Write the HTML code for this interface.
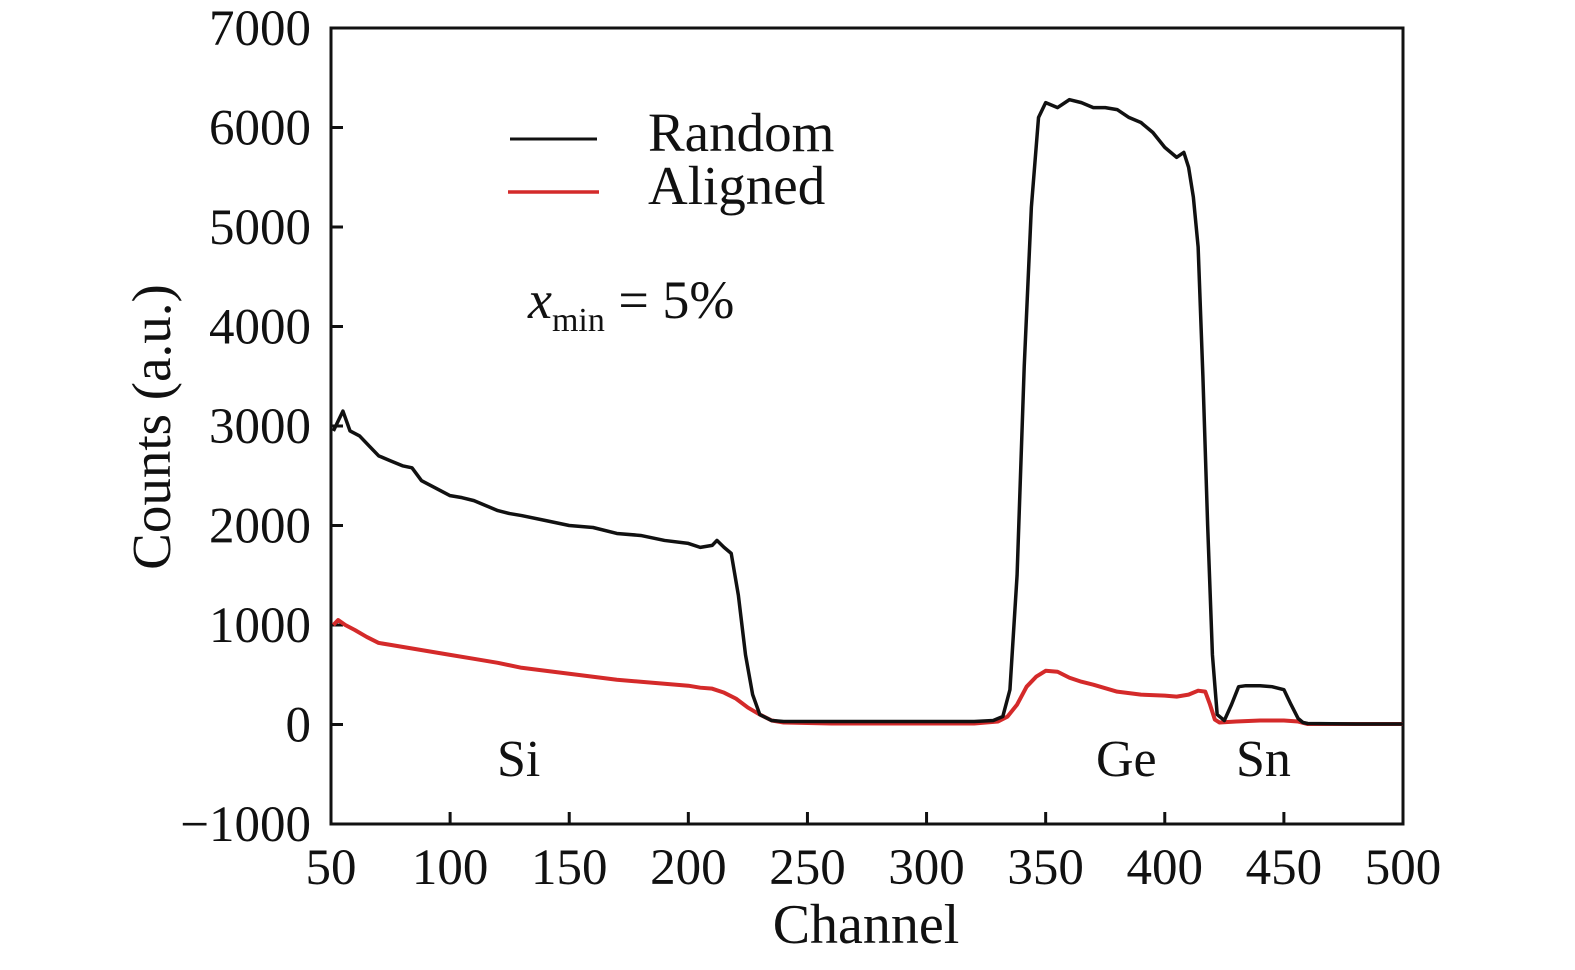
<!DOCTYPE html>
<html><head><meta charset="utf-8"><style>
body{margin:0;background:#fff}
svg text{font-family:"Liberation Serif",serif;fill:#111}
</style></head><body>
<svg width="1575" height="965" viewBox="0 0 1575 965">
<g id="axes"></g>
<g id="series"></g>
<g>
<line x1="510" y1="139" x2="597" y2="139" stroke="#111" stroke-width="3"/>
<text x="648" y="151" font-size="55">Random</text>
<line x1="508" y1="192" x2="599" y2="192" stroke="#d42a2a" stroke-width="3.5"/>
<text x="648" y="204" font-size="55">Aligned</text>
</g>
<text x="528" y="318" font-size="54"><tspan font-style="italic">x</tspan><tspan font-size="34" dy="13">min</tspan><tspan dy="-13"> = 5%</tspan></text>
<text x="497" y="776" font-size="52">Si</text>
<text x="1096" y="776" font-size="52">Ge</text>
<text x="1236" y="776" font-size="52">Sn</text>
<text x="866" y="943" font-size="56" text-anchor="middle">Channel</text>
<text transform="translate(170,427) rotate(-90)" font-size="55" text-anchor="middle">Counts (a.u.)</text>
</svg>
<script>
const xTicks=[50,100,150,200,250,300,350,400,450,500];
const yTicks=[-1000,0,1000,2000,3000,4000,5000,6000,7000];
const yTickLabels=["\u22121000","0","1000","2000","3000","4000","5000","6000","7000"];
const randomX=[51,53,55,58,62,66,70,75,80,84,88,92,96,100,105,110,115,120,125,130,140,150,160,170,180,190,200,205,210,212,215,218,221,224,227,230,235,240,260,280,300,320,328,332,335,338,341,344,347,350,355,360,365,370,375,380,385,390,395,400,405,408,410,412,414,416,418,420,422,425,428,431,434,440,445,450,453,456,458,460,480,500];
const randomY=[2950,3050,3150,2950,2900,2800,2700,2650,2600,2580,2450,2400,2350,2300,2280,2250,2200,2150,2120,2100,2050,2000,1980,1920,1900,1850,1820,1780,1800,1850,1780,1720,1300,700,300,100,40,30,30,30,30,30,40,80,350,1500,3600,5200,6100,6250,6200,6280,6250,6200,6200,6180,6100,6050,5950,5800,5700,5750,5600,5300,4800,3500,2000,700,100,40,200,380,390,390,380,350,200,60,20,10,5,5];
const alignedX=[51,53,56,60,65,70,75,80,90,100,110,120,130,140,150,160,170,180,190,200,205,210,215,220,225,230,235,240,260,300,320,330,334,338,342,346,350,355,360,365,370,380,390,400,405,410,414,417,419,421,423,430,440,450,456,460,480,500];
const alignedY=[1000,1050,1000,950,880,820,800,780,740,700,660,620,570,540,510,480,450,430,410,390,370,360,320,260,170,100,40,20,10,10,10,30,80,200,380,480,540,530,470,430,400,330,300,290,280,300,340,330,200,50,20,30,40,40,30,5,5,5];
const L=331,R=1403,T=28,B=824;
const sx=v=>L+(v-50)/450*(R-L);
const sy=v=>B-(v+1000)/8000*(B-T);
const NS="http://www.w3.org/2000/svg";
const axes=document.getElementById('axes');
function mk(tag,attrs,parent){const e=document.createElementNS(NS,tag);for(const k in attrs)e.setAttribute(k,attrs[k]);parent.appendChild(e);return e;}
const frame=mk('rect',{x:L,y:T,width:R-L,height:B-T,fill:'none',stroke:'#111','stroke-width':3},axes);


xTicks.forEach(v=>{
 const t=mk('line',{x1:sx(v),x2:sx(v),y1:B,y2:B-12,stroke:'#111','stroke-width':3},axes);
 
 
 const tx=mk('text',{x:sx(v),y:B+60,'font-size':51,'text-anchor':'middle'},axes);
 tx.textContent=v;
 
 
});
yTicks.forEach((v,i)=>{
 const t=mk('line',{x1:L,x2:L+12,y1:sy(v),y2:sy(v),stroke:'#111','stroke-width':3},axes);
 
 
 const tx=mk('text',{x:L-20,y:sy(v)+17,'font-size':51,'text-anchor':'end'},axes);
 tx.textContent=yTickLabels[i];
 
 
});
const series=document.getElementById('series');
function line(xs,ys,color,name,w){
 const p=mk('polyline',{points:xs.map((x,i)=>sx(x)+','+sy(ys[i])).join(' '),fill:'none',stroke:color,'stroke-width':w,'stroke-linejoin':'round'},series);
 
 
}
line(alignedX,alignedY,'#d42a2a','aligned-series',4);
line(randomX,randomY,'#111','random-series',3.5);
</script>
</body></html>
